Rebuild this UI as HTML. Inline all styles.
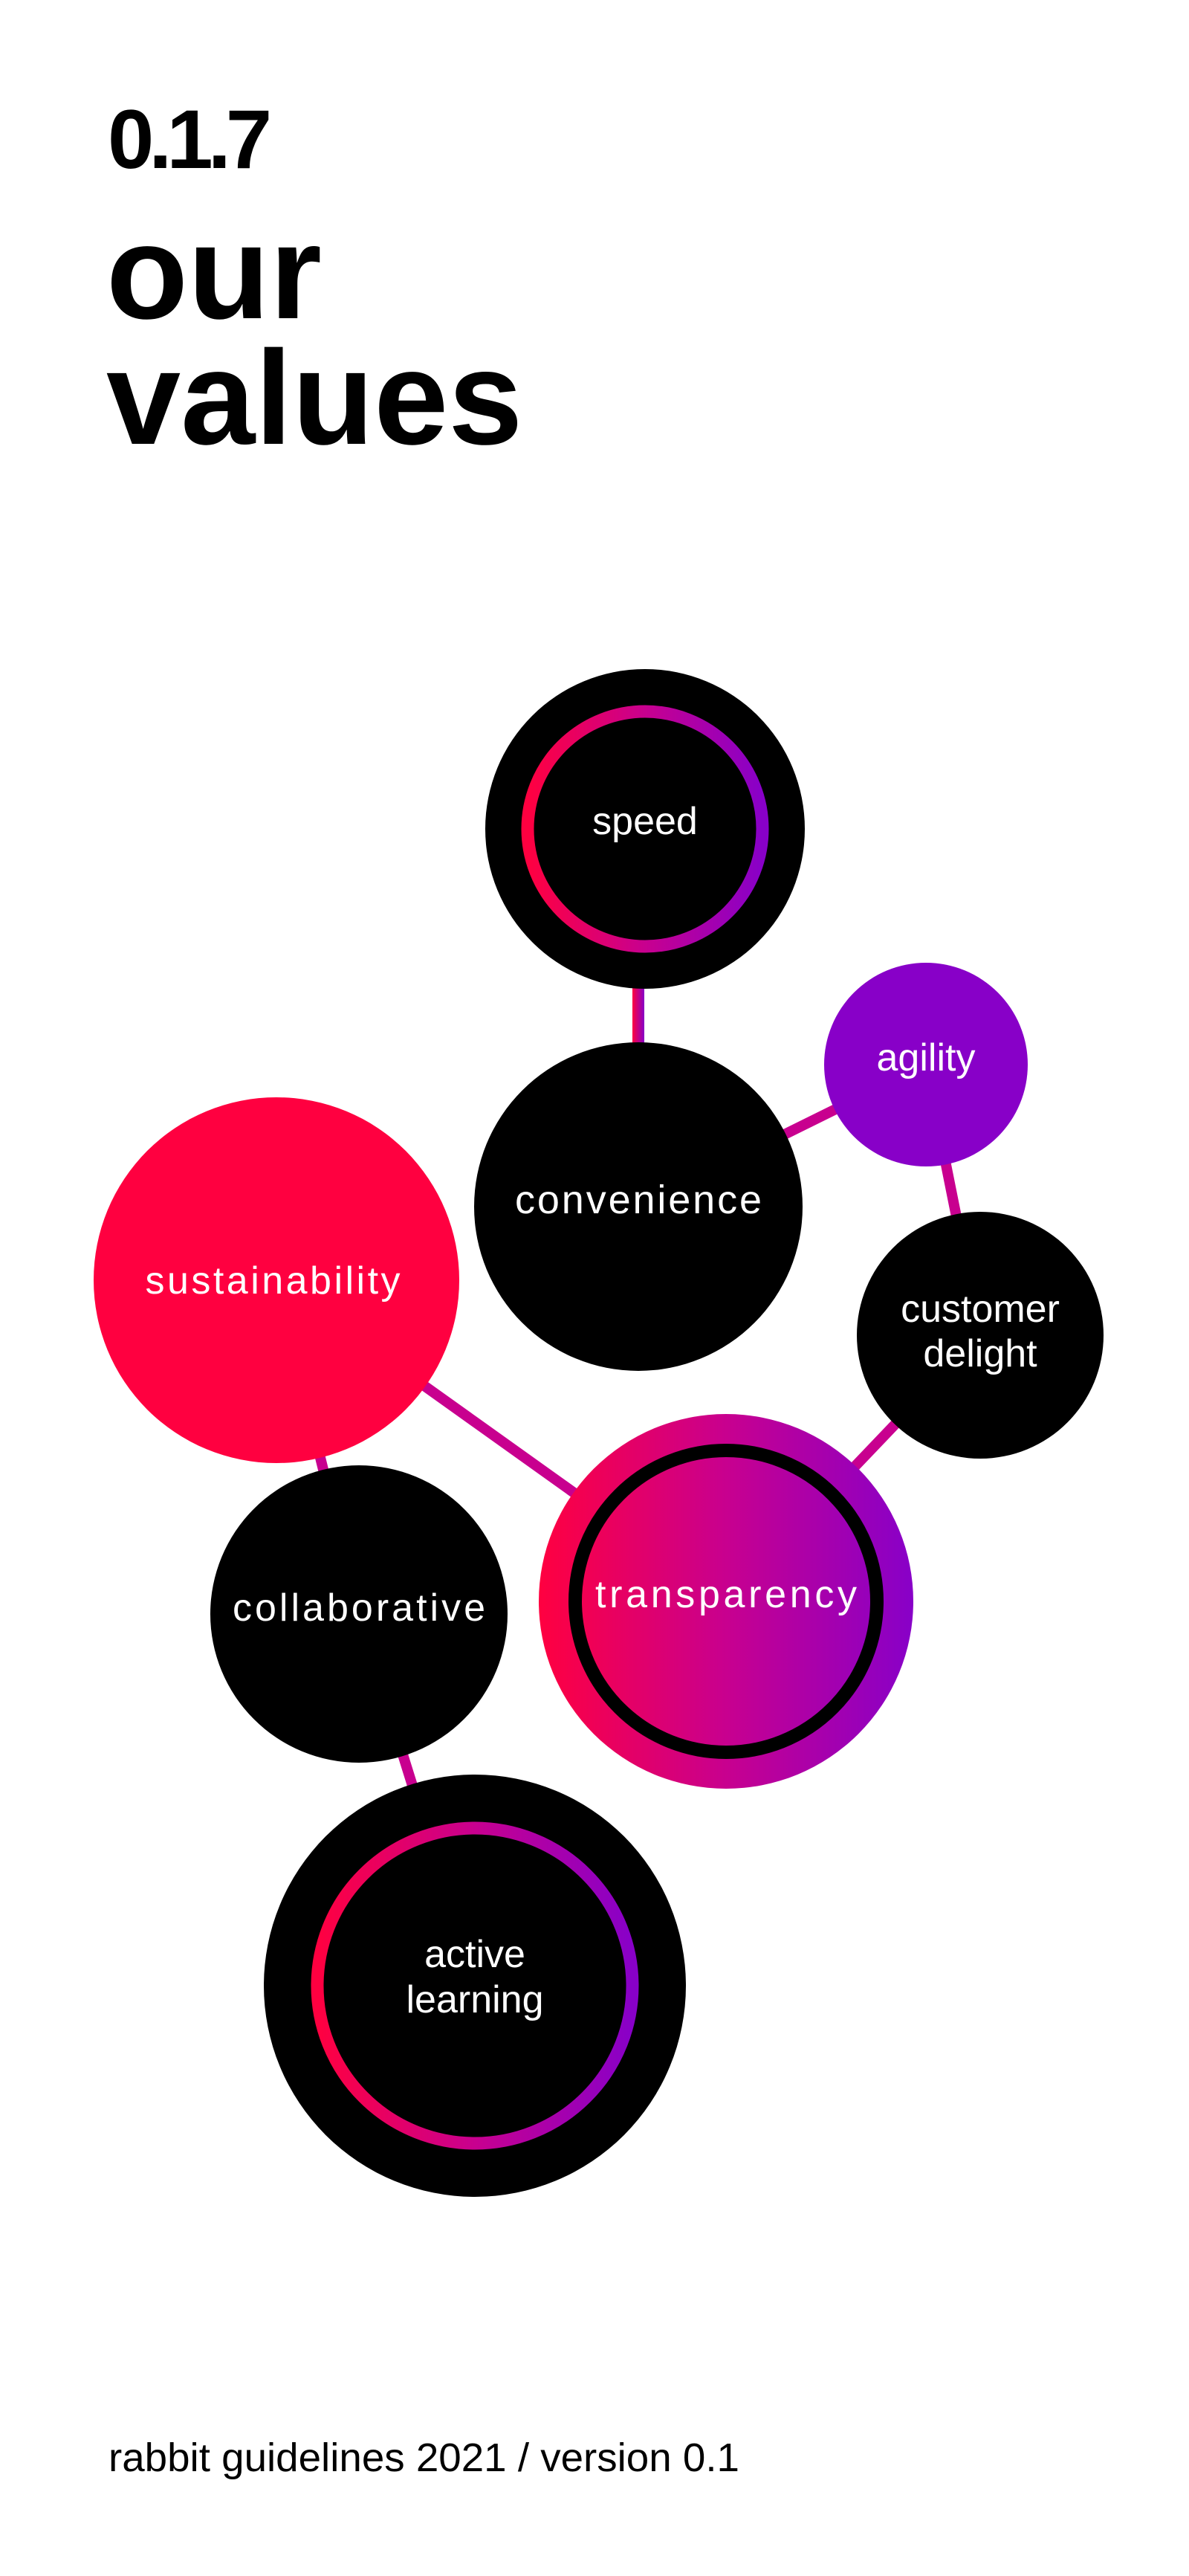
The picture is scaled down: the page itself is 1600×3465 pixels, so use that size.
<!DOCTYPE html>
<html><head><meta charset="utf-8">
<style>
html,body{margin:0;padding:0;background:#fff;}
body{width:1600px;height:3465px;overflow:hidden;}
svg{display:block;}
text{font-family:"Liberation Sans",sans-serif;}
</style></head>
<body>
<svg width="1600" height="3465" viewBox="0 0 1600 3465" xmlns="http://www.w3.org/2000/svg">
<defs>
<linearGradient id="g" x1="0" y1="0" x2="1" y2="0">
<stop offset="0" stop-color="#ff0040"/>
<stop offset="0.5" stop-color="#c8008f"/>
<stop offset="1" stop-color="#8800c8"/>
</linearGradient>
<linearGradient id="gl" x1="0" y1="0" x2="1" y2="0">
<stop offset="0" stop-color="#ff0040"/>
<stop offset="1" stop-color="#8800c8"/>
</linearGradient>
</defs>
<rect width="1600" height="3465" fill="#fff"/>

<text x="145" y="226" font-size="112" font-weight="bold" fill="#000" letter-spacing="-7">0.1.7</text>
<text x="143" y="428" font-size="180" font-weight="bold" fill="#000">our</text>
<text x="143" y="597" font-size="180" font-weight="bold" fill="#000">values</text>

<!-- connectors -->
<g stroke="#c8008f" stroke-width="14" fill="none">
<line x1="1246" y1="1432" x2="859" y2="1623"/>
<line x1="1246" y1="1432" x2="1319" y2="1796"/>
<line x1="1319" y1="1796" x2="977" y2="2154"/>
<line x1="372" y1="1722" x2="977" y2="2154"/>
<line x1="372" y1="1722" x2="483" y2="2171"/>
<line x1="483" y1="2171" x2="639" y2="2671"/>
</g>
<rect x="851" y="1300" width="16" height="120" fill="url(#gl)"/>

<!-- speed -->
<circle cx="868" cy="1115" r="215" fill="#000"/>
<circle cx="868" cy="1115" r="158" fill="none" stroke="url(#g)" stroke-width="17"/>
<text x="868" y="1122" font-size="52" fill="#fff" text-anchor="middle">speed</text>

<!-- convenience -->
<circle cx="859" cy="1623" r="221" fill="#000"/>
<text x="859" y="1632" font-size="54" fill="#fff" text-anchor="middle" textLength="332">convenience</text>

<!-- agility -->
<circle cx="1246" cy="1432" r="137" fill="#8800c8"/>
<text x="1246" y="1440" font-size="52" fill="#fff" text-anchor="middle">agility</text>

<!-- customer delight -->
<circle cx="1319" cy="1796" r="166" fill="#000"/>
<text x="1319" y="1778" font-size="52" fill="#fff" text-anchor="middle">customer</text>
<text x="1319" y="1838" font-size="52" fill="#fff" text-anchor="middle">delight</text>

<!-- sustainability -->
<circle cx="372" cy="1722" r="246" fill="#ff0040"/>
<text x="367" y="1740" font-size="52" fill="#fff" text-anchor="middle" textLength="343">sustainability</text>

<!-- collaborative -->
<circle cx="483" cy="2171" r="200" fill="#000"/>
<text x="483" y="2180" font-size="52" fill="#fff" text-anchor="middle" textLength="340">collaborative</text>

<!-- transparency -->
<circle cx="977" cy="2154" r="252" fill="url(#g)"/>
<circle cx="977" cy="2154" r="203" fill="none" stroke="#000" stroke-width="18"/>
<text x="977" y="2162" font-size="52" fill="#fff" text-anchor="middle" textLength="352">transparency</text>

<!-- active learning -->
<circle cx="639" cy="2671" r="284" fill="#000"/>
<circle cx="639" cy="2671" r="212" fill="none" stroke="url(#g)" stroke-width="17"/>
<text x="639" y="2646" font-size="52" fill="#fff" text-anchor="middle">active</text>
<text x="639" y="2707" font-size="52" fill="#fff" text-anchor="middle">learning</text>

<text x="146" y="3324" font-size="54" fill="#000" textLength="849" lengthAdjust="spacingAndGlyphs">rabbit guidelines 2021 / version 0.1</text>
</svg>
</body></html>
